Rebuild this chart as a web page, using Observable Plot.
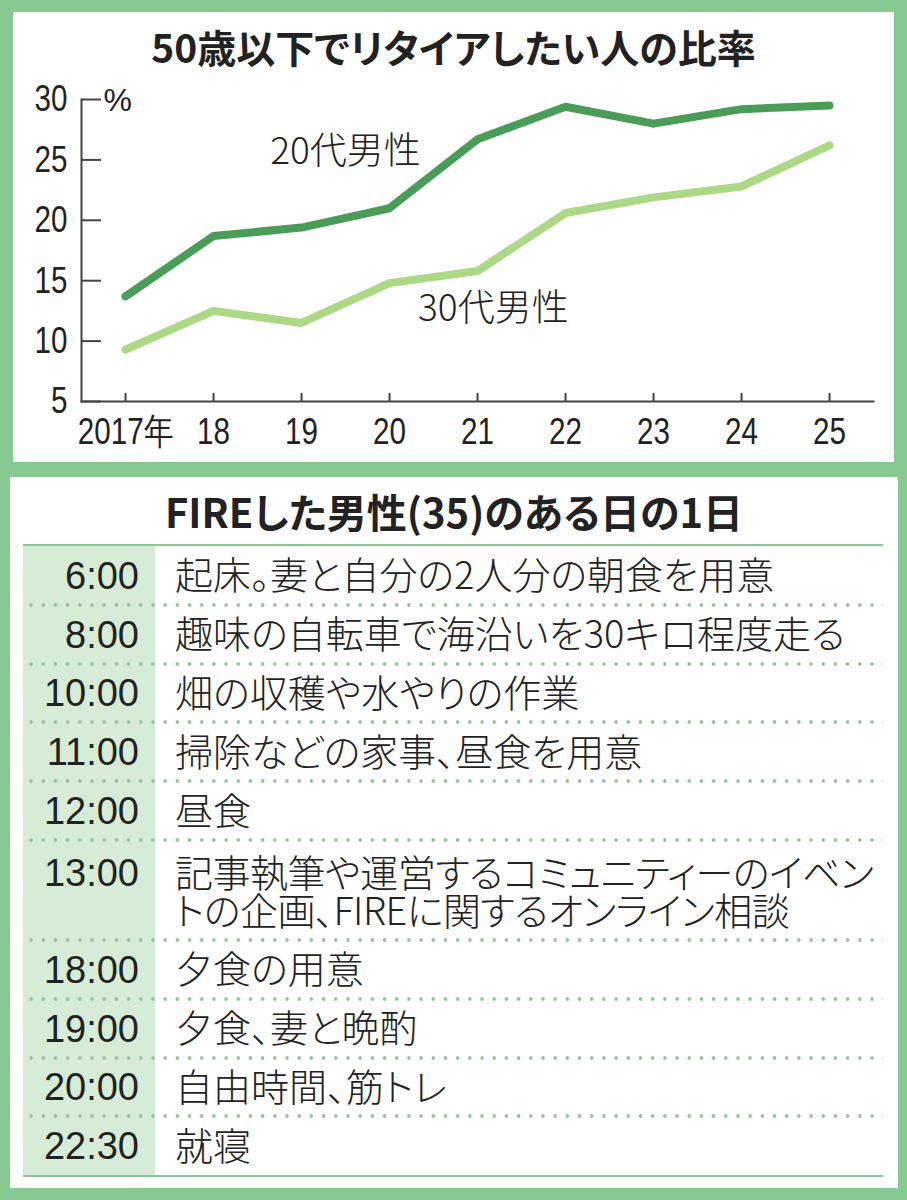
<!DOCTYPE html>
<html lang="ja">
<head>
<meta charset="utf-8">
<script src="https://cdn.jsdelivr.net/npm/d3@7"></script>
<script src="https://cdn.jsdelivr.net/npm/@observablehq/plot@0.6"></script>
<style>
html,body{margin:0;padding:0}
body{width:907px;height:1200px;background:#87c992;position:relative;overflow:hidden;font-family:"Noto Sans CJK JP",sans-serif;color:#222}
.panel{position:absolute;background:#fff}
#top{left:13px;top:12px;width:881px;height:450px}
#bottom{left:10px;top:477px;width:888px;height:711px}
.title{position:absolute;left:0;width:100%;text-align:center;font-weight:700;font-size:39px;line-height:40px;top:14px;font-feature-settings:"palt";white-space:nowrap}
#title2{font-size:40px}
#chart{position:absolute;left:0;top:68px}
#table{position:absolute;left:13px;top:67px;width:860px;border-top:2px solid #8cc596;border-bottom:2px solid #8cc596}
.row{position:relative;display:flex;box-sizing:border-box}
.time{width:132px;flex:none;background:#d6ecd7;box-sizing:border-box;padding-right:16px;text-align:right;font-family:"Liberation Sans",Arial,sans-serif;font-size:38px;line-height:38px}
.desc{flex:1;padding-left:20px;font-size:38px;line-height:38px;font-weight:300;font-feature-settings:"palt";white-space:pre}
.dots{position:absolute;left:0;right:0;top:-2px;height:4px;background-image:radial-gradient(circle,#94c29c 1.5px,transparent 2.1px);background-size:12.2px 4px;background-repeat:repeat-x;background-position:2px 0}
</style>
</head>
<body>
<div id="top" class="panel">
  <div id="title1" class="title"></div>
  <div id="chart"></div>
</div>
<div id="bottom" class="panel">
  <div id="title2" class="title"></div>
  <div id="table"></div>
</div>
<script>
// ---- chart data ----
const chartTitle = "50歳以下でリタイアしたい人の比率";
const years = [2017, 2018, 2019, 2020, 2021, 2022, 2023, 2024, 2025];
const xTickLabels = ["2017年", "18", "19", "20", "21", "22", "23", "24", "25"];
const yTicks = [5, 10, 15, 20, 25, 30];
const yUnit = "%";
const seriesNames = ["20代男性", "30代男性"];
const men20s = [13.7, 18.7, 19.4, 21.0, 26.7, 29.4, 28.0, 29.2, 29.5];
const men30s = [9.3, 12.5, 11.5, 14.8, 15.8, 20.6, 21.9, 22.8, 26.2];
const lineColors = ["#4a9d59", "#add886"];

// ---- table data ----
const tableTitle = "FIREした男性(35)のある日の1日";
const times = ["6:00", "8:00", "10:00", "11:00", "12:00", "13:00", "18:00", "19:00", "20:00", "22:30"];
const activities = [
  "起床。妻と自分の2人分の朝食を用意",
  "趣味の自転車で海沿いを30キロ程度走る",
  "畑の収穫や水やりの作業",
  "掃除などの家事、昼食を用意",
  "昼食",
  "記事執筆や運営するコミュニティーのイベン\nトの企画、FIREに関するオンライン相談",
  "夕食の用意",
  "夕食、妻と晩酌",
  "自由時間、筋トレ",
  "就寝"
];

const NUM_FONT = "'Liberation Sans',Arial,sans-serif";
const JP_FONT = "'Noto Sans CJK JP',sans-serif";

document.getElementById("title1").textContent = chartTitle;
document.getElementById("title2").textContent = tableTitle;

const data = years.flatMap((yr, i) => [
  {year: yr, value: men20s[i], series: seriesNames[0]},
  {year: yr, value: men30s[i], series: seriesNames[1]}
]);
const xLabelOf = new Map(years.map((y, i) => [y, xTickLabels[i]]));

const chart = Plot.plot({
  width: 881,
  height: 380,
  marginLeft: 68,
  marginRight: 21,
  marginTop: 19,
  marginBottom: 59,
  style: {background: "transparent", fontFamily: NUM_FONT, color: "#222", overflow: "visible"},
  x: {domain: [years[0] - 0.5, years[years.length - 1] + 0.5], axis: null},
  y: {domain: [yTicks[0], yTicks[yTicks.length - 1]], axis: null},
  color: {domain: seriesNames, range: lineColors},
  marks: [
    Plot.frame({anchor: "left", stroke: "#444", strokeWidth: 2}),
    Plot.frame({anchor: "bottom", stroke: "#444", strokeWidth: 2}),
    Plot.axisY(yTicks, {anchor: "left", label: null, tickSize: -20, tickFormat: () => "", stroke: "#444", strokeWidth: 2}),
    Plot.axisY(yTicks, {anchor: "left", label: null, tickSize: 0, tickPadding: 14, fontSize: 37, fill: "#222"}),
    Plot.axisX(years, {anchor: "bottom", label: null, tickSize: -8, tickFormat: () => "", stroke: "#444", strokeWidth: 2}),
    Plot.axisX(years, {anchor: "bottom", label: null, tickSize: 0, tickPadding: 16, tickFormat: d => xLabelOf.get(d), fontSize: 37, fill: "#222"}),
    Plot.text([yUnit], {frameAnchor: "top-left", dx: 22, dy: 1, textAnchor: "start", lineAnchor: "middle", fontSize: 32, fontFamily: "'Liberation Sans',sans-serif", fill: "#222"}),
    Plot.line(data, {x: "year", y: "value", stroke: "series", strokeWidth: 8, strokeLinecap: "round", strokeLinejoin: "round"}),
    Plot.text([seriesNames[0]], {x: 2019.5, y: 25.65, fontSize: 37, fontWeight: 300, fontFamily: JP_FONT, fill: "#222"}),
    Plot.text([seriesNames[1]], {x: 2021.18, y: 12.63, fontSize: 37, fontWeight: 300, fontFamily: JP_FONT, fill: "#222"})
  ]
});
document.getElementById("chart").appendChild(chart);

// condense the tick label glyphs, as in the reference's narrow numerals
d3.select(chart)
  .selectAll('g[aria-label="x-axis tick label"] text, g[aria-label="y-axis tick label"] text')
  .each(function () {
    const w = this.getComputedTextLength();
    if (w > 0) {
      this.setAttribute("textLength", (w * 0.8).toFixed(1));
      this.setAttribute("lengthAdjust", "spacingAndGlyphs");
    }
  });

// ---- table ----
const table = document.getElementById("table");
times.forEach((t, i) => {
  const twoLines = activities[i].includes("\n");
  const row = document.createElement("div");
  row.className = "row";
  row.style.height = (twoLines ? 100 : 58.8) + "px";
  const pad = twoLines ? 12 : 8.4;
  const tc = document.createElement("div");
  tc.className = "time";
  tc.style.paddingTop = (pad + 2.4) + "px";
  tc.textContent = t;
  const dc = document.createElement("div");
  dc.className = "desc";
  dc.style.paddingTop = pad + "px";
  dc.textContent = activities[i];
  if (twoLines) dc.style.letterSpacing = "-0.5px";
  row.appendChild(tc);
  row.appendChild(dc);
  if (i > 0) {
    const d = document.createElement("div");
    d.className = "dots";
    row.appendChild(d);
  }
  table.appendChild(row);
});
</script>
</body>
</html>
